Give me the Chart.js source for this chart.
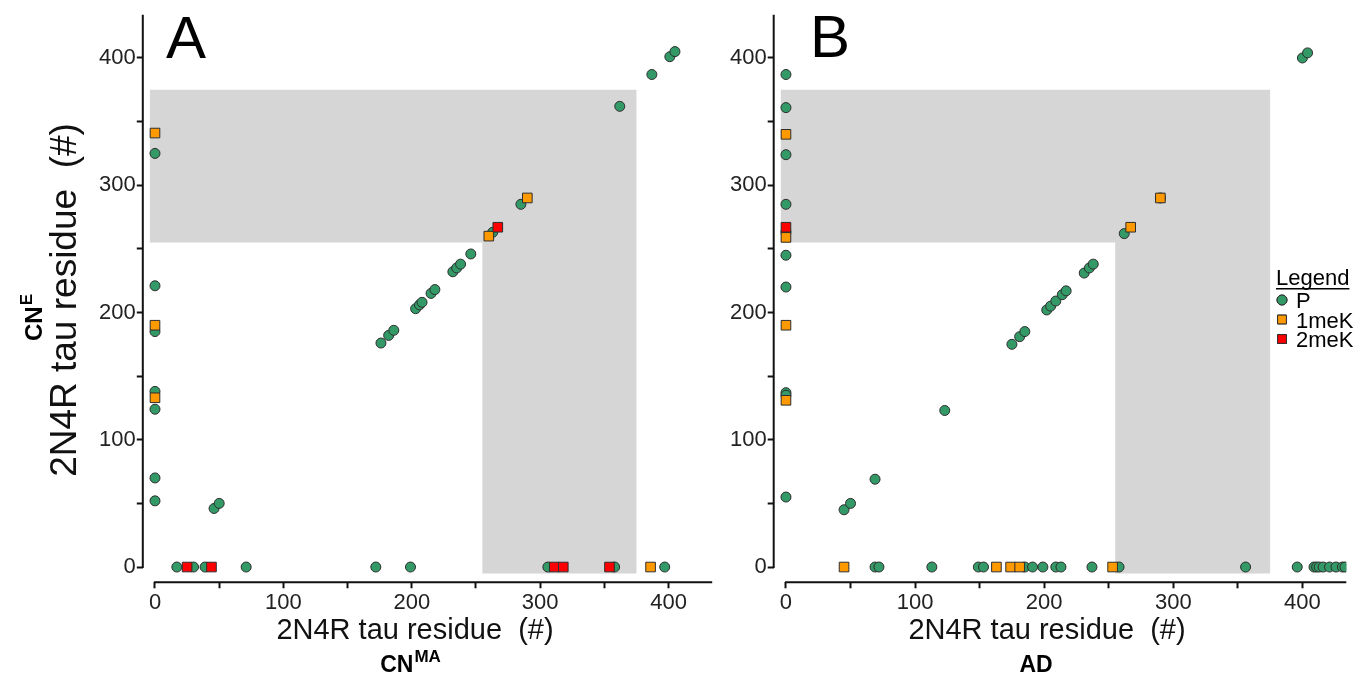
<!DOCTYPE html>
<html>
<head>
<meta charset="utf-8">
<script src="https://cdn.jsdelivr.net/npm/chart.js@4.4.1/dist/chart.umd.min.js"></script>
<style>
  html, body { margin: 0; padding: 0; background: #fff; }
  #wrap { position: relative; width: 1368px; height: 681px; }
  .panel { position: absolute; top: 0; height: 681px; }
  #panelA { left: 0; width: 720px; }
  #panelB { left: 720px; width: 648px; }
</style>
</head>
<body>
<div id="wrap">
  <div class="panel" id="panelA"><canvas id="chartA"></canvas></div>
  <div class="panel" id="panelB"><canvas id="chartB"></canvas></div>
</div>
<script>
// tick marks on both axes, labels only on the hundreds
const tickValues = [0, 50, 100, 150, 200, 250, 300, 350, 400];
const majorTicks = [0, 100, 200, 300, 400];

// shaded residue window (L shape)
const shadeBoxes = [
  { x0: -4, x1: 375, y0: 255, y1: 375 },
  { x0: 255, x1: 375, y0: -5, y1: 256 }
];

// Panel A: x = CN(MA) residue, y = CN(E) residue
const aP = [
  [0, 325], [0, 221], [0, 185], [0, 138], [0, 124], [0, 70], [0, 52],
  [46, 46], [50, 50], [176, 176], [182, 182], [186, 186], [203, 203], [206, 206],
  [208, 208], [215, 215], [218, 218], [232, 232], [235, 235], [238, 238], [246, 246],
  [263, 263], [285, 285], [362, 362], [387, 387], [401, 401], [405, 405],
  [17, 0], [30, 0], [39, 0], [71, 0], [172, 0], [199, 0], [306, 0], [358, 0], [397, 0]
];
const a1meK = [[0, 341], [0, 190], [0, 133], [260, 260], [290, 290], [386, 0]];
const a2meK = [[25, 0], [44, 0], [267, 267], [311, 0], [318, 0], [354, 0]];

// Panel B: x = AD residue, y = CN(E) residue
const bP = [
  [0, 387], [0, 361], [0, 324], [0, 285], [0, 263], [0, 245], [0, 220], [0, 137], [0, 135], [0, 55],
  [45, 45], [50, 50], [69, 69], [123, 123], [175, 175], [181, 181], [185, 185], [202, 202],
  [205, 205], [209, 209], [214, 214], [217, 217], [231, 231], [235, 235], [238, 238],
  [262, 262], [290, 290], [400, 400], [404, 404],
  [69, 0], [72, 0], [113, 0], [149, 0], [153, 0], [185, 0], [191, 0], [199, 0], [209, 0],
  [213, 0], [237, 0], [258, 0], [356, 0], [396, 0], [409, 0], [411, 0], [413, 0], [416, 0],
  [421, 0], [426, 0], [431, 0], [433, 0]
];
const b1meK = [
  [0, 340], [0, 259], [0, 190], [0, 131], [267, 267], [290, 290],
  [45, 0], [163, 0], [174, 0], [181, 0], [253, 0]
];
const b2meK = [[0, 267]];

const seriesNames = ['P', '1meK', '2meK'];

const FONT = '"Liberation Sans", Arial, sans-serif';
const styles = {
  'P':    { pointStyle: 'circle', radius: 5, bg: '#339966' },
  '1meK': { pointStyle: 'rect', radius: 6.8, bg: '#ff9900' },
  '2meK': { pointStyle: 'rect', radius: 6.8, bg: '#ff0000' }
};

function toPts(arr) {
  return arr.map(p => ({ x: p[0], y: p[1] }));
}

function makeDatasets(lists) {
  return lists.map((list, i) => {
    const name = seriesNames[i];
    const st = styles[name];
    return {
      label: name,
      data: toPts(list),
      pointStyle: st.pointStyle,
      pointRadius: st.radius,
      pointHoverRadius: st.radius,
      backgroundColor: st.bg,
      borderColor: '#2e2e2e',
      borderWidth: 1,
      order: 3 - i   // P at the bottom, 2meK on top
    };
  });
}

function drawLabel(ctx, x, y, base, sup, size) {
  // bold label with optional superscript, centred on x
  const supSize = Math.round(size * 0.72);
  ctx.font = 'bold ' + size + 'px ' + FONT;
  const wb = ctx.measureText(base).width;
  ctx.font = 'bold ' + supSize + 'px ' + FONT;
  const ws = sup ? ctx.measureText(sup).width : 0;
  const start = x - (wb + ws) / 2;
  ctx.textAlign = 'left';
  ctx.font = 'bold ' + size + 'px ' + FONT;
  ctx.fillText(base, start, y);
  if (sup) {
    ctx.font = 'bold ' + supSize + 'px ' + FONT;
    ctx.fillText(sup, start + wb + 1, y - size * 0.42);
  }
}

const decor = {
  id: 'decor',
  beforeDatasetsDraw(chart) {
    const { ctx, scales: { x, y } } = chart;
    ctx.save();
    ctx.fillStyle = '#d6d6d6';
    // one path for both boxes so there is no seam where they meet
    ctx.beginPath();
    shadeBoxes.forEach(b => {
      const l = x.getPixelForValue(b.x0), r = x.getPixelForValue(b.x1);
      const t = y.getPixelForValue(b.y1), bt = y.getPixelForValue(b.y0);
      ctx.rect(l, t, r - l, bt - t);
    });
    ctx.fill();
    ctx.restore();
  },
  afterDraw(chart, args, opts) {
    const { ctx, chartArea, scales: { x, y } } = chart;
    ctx.save();
    // axis lines, each starting at 0 like the original
    ctx.strokeStyle = '#111';
    ctx.lineWidth = 2;
    ctx.beginPath();
    ctx.moveTo(chartArea.left, y.getPixelForValue(0) + 1);
    ctx.lineTo(chartArea.left, chartArea.top);
    ctx.moveTo(x.getPixelForValue(0) - 1, chartArea.bottom);
    ctx.lineTo(chartArea.right, chartArea.bottom);
    ctx.stroke();

    ctx.fillStyle = '#000';
    ctx.textBaseline = 'alphabetic';

    // panel letter
    ctx.font = '60px ' + FONT;
    ctx.textAlign = 'left';
    ctx.fillText(opts.letter.text, opts.letter.x, opts.letter.y);

    // x title
    ctx.fillStyle = '#111';
    ctx.font = '29px ' + FONT;
    ctx.textAlign = 'center';
    ctx.fillText('2N4R tau residue  (#)', opts.xTitle.x, opts.xTitle.y);
    ctx.fillStyle = '#000';
    drawLabel(ctx, opts.xGroup.x, opts.xGroup.y, opts.xGroup.base, opts.xGroup.sup, 23);

    // y title (panel A only)
    if (opts.yTitle) {
      ctx.save();
      ctx.translate(opts.yTitle.x, opts.yTitle.y);
      ctx.rotate(-Math.PI / 2);
      ctx.fillStyle = '#111';
      ctx.font = '37px ' + FONT;
      ctx.textAlign = 'center';
      ctx.fillText('2N4R tau residue  (#)', 0, 0);
      ctx.restore();
      ctx.save();
      ctx.translate(opts.yGroup.x, opts.yGroup.y);
      ctx.rotate(-Math.PI / 2);
      drawLabel(ctx, 0, 0, opts.yGroup.base, opts.yGroup.sup, 24);
      ctx.restore();
    }

    // legend (panel B only), styled from the datasets
    if (opts.legend) {
      const lg = opts.legend;
      ctx.font = '22px ' + FONT;
      ctx.textAlign = 'left';
      ctx.fillText('Legend', lg.x, lg.y);
      const w = ctx.measureText('Legend').width;
      ctx.fillRect(lg.x, lg.y + 3, w, 1.5);
      chart.data.datasets.forEach((ds, i) => {
        const cy = lg.y + 15 + i * 19.5;
        ctx.fillStyle = ds.backgroundColor;
        ctx.strokeStyle = ds.borderColor;
        ctx.lineWidth = 1;
        const r = ds.pointStyle === 'circle' ? 5 : 4.4 / Math.SQRT1_2;
        Chart.helpers.drawPoint(ctx, { pointStyle: ds.pointStyle, radius: r, borderWidth: 1 }, lg.x + 6, cy);
        ctx.fill();
        ctx.stroke();
        ctx.fillStyle = '#000';
        ctx.fillText(ds.label, lg.x + 20, cy + 8);
      });
    }
    ctx.restore();
  }
};

function axis(min, max, fit) {
  return {
    type: 'linear',
    min: min,
    max: max,
    border: { display: false },
    grid: { drawOnChartArea: false, drawTicks: true, tickLength: 6, tickWidth: 2, tickColor: '#111' },
    ticks: {
      autoSkip: false,
      maxRotation: 0,
      padding: 1,
      color: '#222',
      font: { family: FONT, size: 22 },
      callback: v => (majorTicks.includes(v) ? String(v) : '')
    },
    afterBuildTicks: s => { s.ticks = tickValues.map(v => ({ value: v })); },
    afterFit: fit
  };
}

function makeChart(id, lists, yWidth, padRight, decorOpts) {
  return new Chart(document.getElementById(id), {
    type: 'scatter',
    data: { datasets: makeDatasets(lists) },
    options: {
      responsive: true,
      maintainAspectRatio: false,
      animation: false,
      layout: { padding: { top: 14.7, right: padRight, left: 0, bottom: 0 } },
      scales: {
        x: axis(-9.5, 434, s => { s.height = 98.7; }),
        y: axis(-12, 434, s => { s.width = yWidth; })
      },
      plugins: {
        legend: { display: false },
        tooltip: { enabled: false },
        decor: decorOpts
      }
    },
    plugins: [decor]
  });
}

makeChart('chartA', [aP, a1meK, a2meK], 142.8, 6.2, {
  letter: { text: 'A', x: 166, y: 58 },
  xTitle: { x: 415, y: 639 },
  xGroup: { base: 'CN', sup: 'MA', x: 410, y: 672 },
  yTitle: { x: 76, y: 300 },
  yGroup: { base: 'CN', sup: 'E', x: 42, y: 318 },
  legend: null
});

makeChart('chartB', [bP, b1meK, b2meK], 53.7, 21.7, {
  letter: { text: 'B', x: 90, y: 57 },
  xTitle: { x: 327, y: 639 },
  xGroup: { base: 'AD', sup: '', x: 316, y: 672 },
  yTitle: null,
  legend: { x: 556, y: 285 }
});
</script>
</body>
</html>
